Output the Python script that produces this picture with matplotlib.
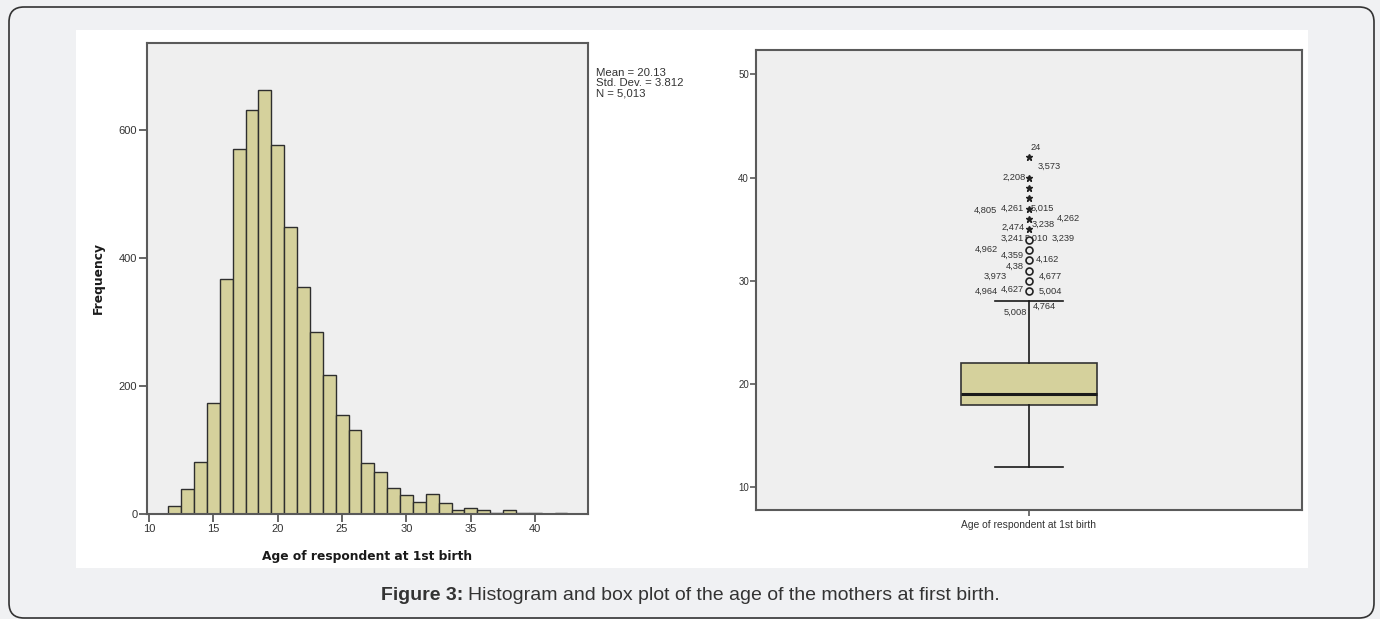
import numpy as np
import matplotlib
matplotlib.use('Agg')
import matplotlib.pyplot as plt
from matplotlib.patches import FancyBboxPatch, Rectangle

# histogram: age bins (1 year wide, centred on integers) and counts
ages = [12, 13, 14, 15, 16, 17, 18, 19, 20, 21, 22, 23, 24, 25, 26, 27,
        28, 29, 30, 31, 32, 33, 34, 35, 36, 37, 38, 39, 40, 42]
counts = [13, 39, 82, 173, 367, 571, 631, 662, 576, 448, 355, 284, 217, 155, 131, 80,
          66, 40, 30, 19, 31, 17, 7, 9, 7, 1, 6, 1, 1, 1]
stats_text = ["Mean = 20.13", "Std. Dev. = 3.812", "N = 5,013"]

# box plot summary
q1, median, q3 = 18, 19, 22
whisker_lo, whisker_hi = 12, 28
outliers_circle = [29, 30, 31, 32, 33, 34]
outliers_star = [35, 36, 37, 38, 39, 40, 42]
# case labels: (text, value of point, dx px, dy px, alignment)
case_labels = [
    ("24", 42, 2, -9, 'left'), ("3,573", 42, 9, 9, 'left'),
    ("2,208", 40, -3, 0, 'right'),
    ("4,805", 37, -32, 2, 'right'), ("4,261", 37, -5, 0, 'right'), ("5,015", 37, 2, 0, 'left'),
    ("4,262", 36, 28, -1, 'left'),
    ("2,474", 35, -4, -2, 'right'), ("3,238", 35, 3, -5, 'left'),
    ("3,241", 34, -5, -1, 'right'), ("5,010", 34, -4, -1, 'left'), ("3,239", 34, 23, -1, 'left'),
    ("4,962", 33, -31, -1, 'right'), ("4,359", 33, -5, 5, 'right'),
    ("4,162", 32, 7, -1, 'left'),
    ("4,38", 31, -5, -4, 'right'),
    ("3,973", 30, -22, -5, 'right'), ("4,677", 30, 10, -5, 'left'),
    ("4,964", 29, -31, 0, 'right'), ("4,627", 29, -5, -2, 'right'), ("5,004", 29, 10, 0, 'left'),
    ("5,008", 28, -2, 11, 'right'), ("4,764", 28, 4, 5, 'left'),
]

bar_color = '#d5d19c'
panel_bg = '#efefef'
spine_col = '#5a5a5a'
px = 0.72  # points per pixel at 100 dpi

fig = plt.figure(figsize=(13.8, 6.19), dpi=100)
fig.patch.set_facecolor('#f0f1f3')

# outer rounded frame and white panel (behind the axes)
frame = FancyBboxPatch((0.09, 0.01), 13.65, 6.11, boxstyle="round,pad=0,rounding_size=0.15",
                       transform=fig.dpi_scale_trans, facecolor='#f0f1f3', edgecolor='#333333',
                       lw=1.2, zorder=-2)
fig.patches.append(frame)
panel = Rectangle((0.76, 0.51), 12.32, 5.38, transform=fig.dpi_scale_trans,
                  facecolor='white', edgecolor='none', zorder=-1)
fig.patches.append(panel)

# ---- histogram ----
ax1 = fig.add_axes([147/1380, (619-514)/619, 441/1380, 471/619])
ax1.set_facecolor(panel_bg)
ax1.bar(ages, counts, width=1.0, color=bar_color, edgecolor='#2e2e2e', linewidth=1.0)
ax1.set_xlim(9.85, 44.1)
ax1.set_ylim(0, 736)
ax1.set_xticks([10, 15, 20, 25, 30, 35, 40])
ax1.set_yticks([0, 200, 400, 600])
for s in ax1.spines.values():
    s.set_color(spine_col)
    s.set_linewidth(1.5)
ax1.tick_params(direction='out', length=6, width=1.3, color=spine_col, labelcolor='#333333',
                labelsize=8, pad=1)
for lab in ax1.get_xticklabels() + ax1.get_yticklabels():
    lab.set_family('Liberation Sans')
ax1.set_xlabel('Age of respondent at 1st birth', fontsize=8.8, fontweight='bold',
               family='DejaVu Sans', color='#1a1a1a', labelpad=12)
ax1.set_ylabel('Frequency', fontsize=8.8, fontweight='bold', family='DejaVu Sans',
               color='#1a1a1a', labelpad=10)
for i, t in enumerate(stats_text):
    fig.text(596/1380, 1 - (73 + i*10.5)/619, t, fontsize=8.2, family='Liberation Sans',
             color='#333333', va='center', ha='left')

# ---- box plot ----
ax2 = fig.add_axes([756/1380, (619-510)/619, 546/1380, 460/619])
ax2.set_facecolor(panel_bg)
box_stats = [{'med': median, 'q1': q1, 'q3': q3, 'whislo': whisker_lo, 'whishi': whisker_hi,
              'fliers': [], 'label': 'Age of respondent at 1st birth'}]
ax2.bxp(box_stats, positions=[1], widths=0.25, patch_artist=True, showfliers=False,
        boxprops=dict(facecolor=bar_color, edgecolor='#333333', linewidth=1.2),
        medianprops=dict(color='#1a1a1a', linewidth=2.2),
        whiskerprops=dict(color='#1a1a1a', linewidth=1.2),
        capprops=dict(color='#1a1a1a', linewidth=1.2), capwidths=0.125)
for txt, val, dx, dy, ha in case_labels:
    ax2.annotate(txt, xy=(1, val), xytext=(dx*px, -dy*px), textcoords='offset points',
                 ha=ha, va='center', fontsize=6.7, family='Liberation Sans', color='#333333',
                 zorder=2)
ax2.plot([1]*len(outliers_circle), outliers_circle, 'o', markersize=5, markerfacecolor=panel_bg,
         markeredgecolor='#222222', markeredgewidth=1.2, zorder=3)
ax2.plot([1]*len(outliers_star), outliers_star, '*', markersize=4.5, color='#222222', zorder=3)
ax2.set_xlim(0.5, 1.5)
ax2.set_ylim(7.8, 52.36)
ax2.set_yticks([10, 20, 30, 40, 50])
for s in ax2.spines.values():
    s.set_color(spine_col)
    s.set_linewidth(1.5)
ax2.tick_params(direction='out', length=4, width=1.2, color=spine_col, labelcolor='#333333',
                labelsize=7, pad=1)
ax2.tick_params(axis='x', labelsize=7.4, pad=3)
for lab in ax2.get_xticklabels() + ax2.get_yticklabels():
    lab.set_family('Liberation Sans')

# caption
fig.text(381/1380, 1 - 596/619, 'Figure 3:', fontsize=14, fontweight='bold',
         family='Liberation Sans', color='#333333', va='center', ha='left')
fig.text(468/1380, 1 - 596/619, 'Histogram and box plot of the age of the mothers at first birth.',
         fontsize=14, family='Liberation Sans', color='#333333', va='center', ha='left')

fig.savefig('out.png', dpi=100, facecolor=fig.get_facecolor())
